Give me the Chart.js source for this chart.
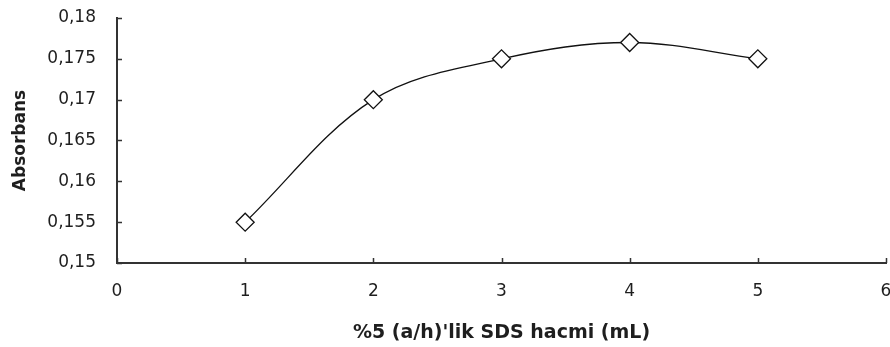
<!DOCTYPE html>
<html>
<head>
<meta charset="utf-8">
<script src="https://cdn.jsdelivr.net/npm/chart.js@4"></script>
<style>
  html, body { margin: 0; padding: 0; background: #fff; }
  #wrap { width: 890px; height: 347px; }
</style>
</head>
<body>
<div id="wrap"><canvas id="c" width="890" height="347"></canvas></div>
<script>
// SDS volume (mL) vs. absorbance
const sdsVolume = [1, 2, 3, 4, 5];
const absorbance = [0.155, 0.170, 0.175, 0.177, 0.175];
const xTickLabels = ['0', '1', '2', '3', '4', '5', '6'];
const yTickLabels = ['0,15', '0,155', '0,16', '0,165', '0,17', '0,175', '0,18'];
const xTitle = "%5 (a/h)'lik SDS hacmi (mL)";
const yTitle = 'Absorbans';

const axisColor = '#333';
const textColor = '#1e1e1e';

// short tick marks drawn inward from the axis lines
const innerTicks = {
  id: 'innerTicks',
  afterDatasetsDraw(chart) {
    const ctx = chart.ctx;
    const xs = chart.scales.x, ys = chart.scales.y;
    const len = 5;
    ctx.save();
    ctx.strokeStyle = axisColor;
    ctx.lineWidth = 1.5;
    ctx.beginPath();
    xs.ticks.forEach(t => {
      const px = Math.round(xs.getPixelForValue(t.value)) + 0.5;
      ctx.moveTo(px, ys.bottom);
      ctx.lineTo(px, ys.bottom - len);
    });
    ys.ticks.forEach(t => {
      const py = Math.round(ys.getPixelForValue(t.value)) + 0.5;
      ctx.moveTo(xs.left, py);
      ctx.lineTo(xs.left + len, py);
    });
    ctx.stroke();
    ctx.restore();
  }
};

const whiteBg = {
  id: 'whiteBg',
  beforeDraw(chart) {
    const ctx = chart.ctx;
    ctx.save();
    ctx.fillStyle = '#fff';
    ctx.fillRect(0, 0, chart.width, chart.height);
    ctx.restore();
  }
};

new Chart(document.getElementById('c'), {
  type: 'line',
  data: {
    datasets: [{
      data: sdsVolume.map((v, i) => ({ x: v, y: absorbance[i] })),
      borderColor: '#111',
      borderWidth: 1.3,
      tension: 0.35,
      pointStyle: 'rectRot',
      pointRadius: 9,
      pointBorderWidth: 1.3,
      pointBorderColor: '#111',
      pointBackgroundColor: '#fff',
      fill: false
    }]
  },
  options: {
    responsive: false,
    animation: false,
    devicePixelRatio: 1,
    layout: { autoPadding: false, padding: { top: 18, right: 4, left: 0, bottom: 0 } },
    plugins: { legend: { display: false }, tooltip: { enabled: false } },
    scales: {
      x: {
        type: 'linear',
        min: 0, max: 6,
        afterFit(s) { s.height = 84; s.paddingLeft = 0; s.paddingRight = 0; },
        grid: { drawOnChartArea: false, drawTicks: false },
        border: { display: true, color: axisColor, width: 2 },
        ticks: {
          stepSize: 1,
          padding: 18,
          color: textColor,
          font: { family: 'DejaVu Sans', size: 17 },
          callback: (v, i) => xTickLabels[i]
        },
        title: {
          display: true,
          text: xTitle,
          color: textColor,
          font: { family: 'DejaVu Sans', size: 19, weight: 'bold' },
          padding: { top: 0, bottom: 3 }
        }
      },
      y: {
        type: 'linear',
        min: 0.15, max: 0.18,
        afterFit(s) { s.width = 117; s.paddingTop = 0; s.paddingBottom = 0; },
        grid: { drawOnChartArea: false, drawTicks: false },
        border: { display: true, color: axisColor, width: 2 },
        ticks: {
          stepSize: 0.005,
          padding: 21,
          color: textColor,
          font: { family: 'DejaVu Sans', size: 17 },
          callback: (v, i) => yTickLabels[i]
        },
        title: {
          display: true,
          text: yTitle,
          color: textColor,
          font: { family: 'DejaVu Sans', size: 17, weight: 'bold' },
          padding: { top: 10, bottom: 0 }
        }
      }
    }
  },
  plugins: [whiteBg, innerTicks]
});
</script>
</body>
</html>
